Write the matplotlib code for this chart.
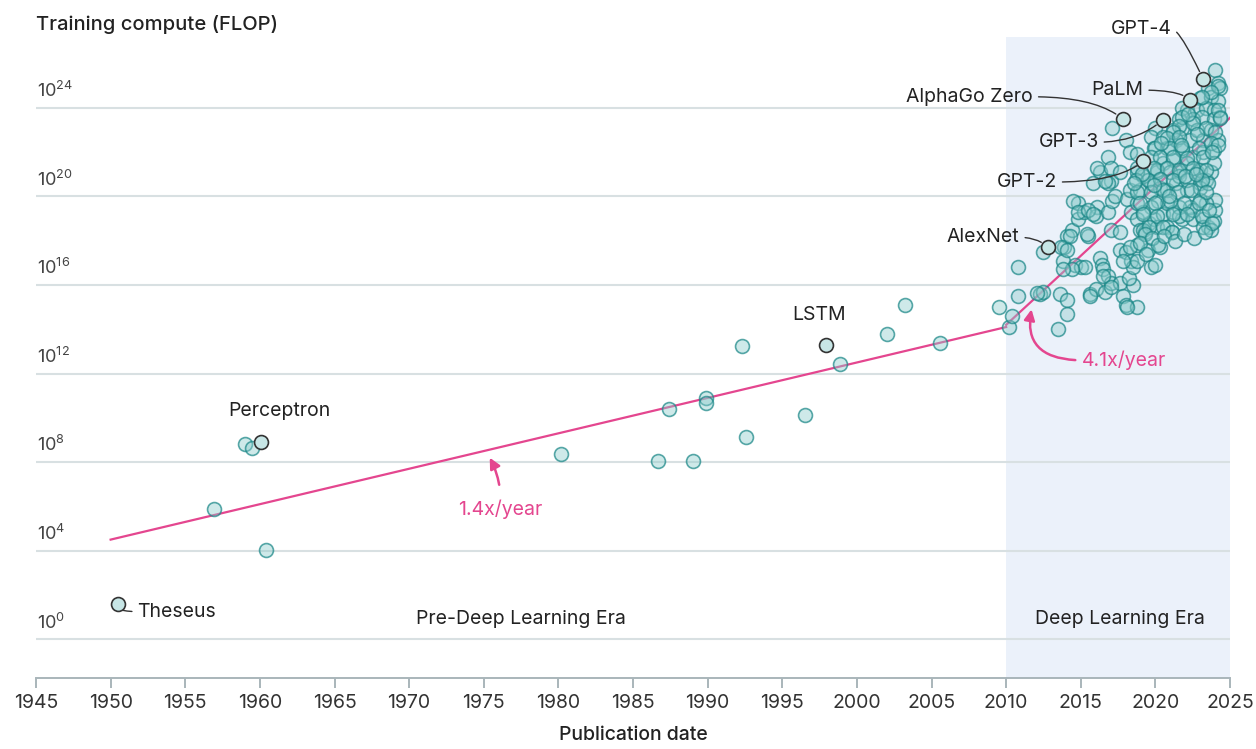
import matplotlib
matplotlib.use("Agg")
import matplotlib.pyplot as plt
import numpy as np

plt.rcParams['font.family'] = ['Inter', 'DejaVu Sans']

# ---- data: publication year and log10 of training compute (FLOP) ----
years = [
    # pre deep learning era
    1956.9, 1960.4, 1959.0, 1959.5, 1980.2, 1986.7, 1989.0, 1987.4, 1989.9, 1989.9,
    1992.6, 1992.3, 1996.5, 1998.9, 2002.0, 2003.2, 2005.6, 2009.5, 2010.2,
    # deep learning era
    2010.4, 2010.8, 2010.8, 2012.3, 2012.5, 2013.6, 2014.1, 2014.1, 2013.5, 2013.8,
    2013.9, 2014.1, 2014.4, 2014.8, 2014.8, 2015.2, 2015.5, 2014.6, 2015.0, 2015.3,
    2014.4, 2013.8, 2012.5, 2013.7, 2016.1, 2016.0, 2016.3, 2016.4, 2016.5, 2015.6,
    2016.0, 2016.6, 2016.8, 2017.0, 2017.6, 2017.8, 2018.0, 2018.8, 2018.5, 2018.2,
    2017.6, 2018.0, 2018.4, 2018.5, 2017.8, 2019.7, 2019.5, 2020.3, 2018.8, 2017.0,
    2017.6, 2016.8, 2017.1, 2017.3, 2018.1, 2018.3, 2018.4, 2018.8, 2019.0, 2019.3,
    2019.6, 2019.9, 2020.1, 2020.8, 2021.1, 2020.5, 2021.2, 2021.8, 2022.5, 2023.2,
    2023.5, 2023.9, 2024.0, 2024.0, 2023.4, 2023.0, 2022.3, 2021.6, 2020.8, 2020.2,
    2019.7, 2019.2, 2018.8, 2019.0, 2019.7, 2020.3, 2020.8, 2021.4, 2022.1, 2023.0,
    2023.4, 2022.8, 2021.6, 2020.1, 2019.2, 2018.8, 2017.0, 2016.3, 2015.8, 2016.8,
    2024.0, 2024.2, 2024.3, 2023.5, 2023.0, 2023.7, 2024.2, 2022.1, 2022.8, 2023.4,
    2023.9, 2017.1, 2020.0, 2021.6, 2021.8, 2022.5, 2023.1, 2023.9, 2024.3, 2018.0,
    2018.3, 2018.8, 2016.8, 2016.1, 2017.0, 2016.6, 2017.6, 2019.7, 2019.9, 2020.5,
    2020.8, 2021.2, 2021.4, 2021.8, 2022.3, 2022.8, 2023.2, 2023.7, 2024.2, 2023.9,
    2023.2, 2022.5, 2022.1, 2021.2, 2020.5, 2020.1, 2021.0, 2021.6, 2023.0, 2023.7,
    2023.9, 2023.0, 2023.5, 2014.5, 2014.8, 2015.5, 2015.8, 2015.4, 2014.3, 2014.1,
    2012.1, 2015.6, 2016.5, 2017.0, 2018.1, 2018.8, 2018.3, 2019.2, 2021.6, 2022.5,
    2023.2, 2023.7,
    2024.2, 2023.7, 2023.1, 2021.8, 2021.8, 2024.2, 2024.3, 2021.6, 2022.5, 2023.4,
    2024.0, 2021.2, 2020.8, 2021.6, 2022.8, 2021.0, 2021.8, 2022.9, 2023.7, 2024.2,
    2020.0, 2019.7, 2020.3, 2021.2, 2022.1, 2023.2, 2023.8, 2018.8, 2019.9, 2020.8,
    2021.6, 2022.5, 2023.4, 2018.7, 2019.5, 2020.3, 2021.2, 2022.1, 2023.1, 2018.8,
    2019.7, 2020.5, 2021.5, 2022.4, 2023.4, 2019.0, 2020.0, 2021.0, 2021.9, 2022.9,
    2019.2, 2020.1, 2021.2, 2022.1, 2023.1, 2023.8, 2019.6, 2020.5, 2021.1, 2019.3,
    # extra points in the dense core
    2019.0, 2019.4, 2019.8, 2020.2, 2020.6, 2021.3, 2021.9, 2022.6, 2023.3, 2022.0,
    2020.9, 2019.9, 2019.1, 2018.6, 2020.4, 2021.7, 2022.7, 2023.6, 2022.2, 2020.0,
]
log_flop = [
    5.9, 4.05, 8.8, 8.65, 8.35, 8.05, 8.05, 10.4, 10.9, 10.65,
    9.15, 13.25, 10.15, 12.45, 13.8, 15.1, 13.4, 15.0, 14.1,
    14.6, 15.5, 16.8, 15.6, 15.7, 15.6, 15.3, 14.7, 14.0, 17.1,
    17.7, 18.2, 18.5, 19.0, 19.7, 19.3, 18.2, 16.9, 16.8, 16.8,
    16.7, 16.7, 17.5, 17.7, 19.5, 19.1, 17.2, 16.9, 16.7, 15.6,
    15.8, 15.7, 16.4, 16.1, 16.1, 15.5, 15.1, 15.0, 16.0, 16.3,
    17.6, 17.5, 17.1, 16.8, 17.1, 16.8, 17.6, 17.7, 17.8, 18.5,
    18.4, 19.3, 19.8, 20.0, 19.9, 20.3, 19.3, 19.0, 18.5, 18.4,
    18.8, 19.0, 18.6, 18.6, 18.4, 19.2, 19.3, 19.0, 19.0, 19.0,
    18.6, 18.9, 19.4, 19.85, 19.7, 19.85, 19.5, 19.5, 19.7, 19.8,
    19.5, 19.3, 19.7, 20.3, 20.6, 20.4, 20.3, 20.6, 20.3, 20.6,
    20.75, 21.1, 21.1, 21.1, 20.9, 21.1, 20.7, 21.1, 20.6, 20.6,
    25.7, 25.1, 24.9, 24.9, 24.45, 24.5, 24.3, 23.9, 23.9, 24.0,
    23.9, 23.1, 23.1, 23.5, 23.1, 23.5, 23.6, 23.5, 23.6, 22.55,
    22.0, 21.9, 21.8, 21.3, 21.3, 20.7, 21.1, 22.7, 22.2, 22.7,
    22.2, 23.0, 22.55, 22.1, 22.55, 23.0, 22.55, 23.0, 22.55, 22.1,
    22.0, 21.8, 21.5, 21.65, 21.5, 21.2, 21.1, 20.9, 21.2, 21.1,
    21.5, 20.4, 20.6, 19.8, 19.3, 19.4, 19.2, 18.3, 18.2, 17.6,
    15.65, 15.5, 16.4, 15.9, 15.0, 17.1, 17.7, 18.5, 19.1, 19.4,
    18.6, 18.5,
    25.0, 24.7, 24.5, 24.0, 23.6, 23.9, 23.55, 23.2, 23.3, 23.1,
    22.9, 22.9, 22.65, 22.7, 22.8, 22.2, 22.2, 22.2, 22.4, 22.3,
    22.2, 21.8, 21.8, 21.8, 21.75, 21.8, 22.0, 21.3, 21.3, 21.3,
    21.2, 21.3, 21.2, 20.75, 20.75, 20.8, 20.75, 20.75, 20.75, 20.2,
    20.2, 20.3, 20.2, 20.3, 20.2, 19.7, 19.7, 19.8, 19.7, 19.7,
    19.2, 19.1, 19.2, 19.2, 19.1, 18.8, 18.6, 18.6, 18.4, 18.3,
    17.9, 17.4, 18.1, 17.8, 18.2, 18.0, 18.3, 18.1, 18.4, 20.9,
    20.0, 20.5, 21.0, 20.6, 22.4, 22.3, 21.0, 19.4, 23.7, 16.9,
]

# named systems
named = ['Theseus', 'Perceptron', 'LSTM', 'AlexNet', 'GPT-2', 'GPT-3',
         'AlphaGo Zero', 'PaLM', 'GPT-4']
named_years = [1950.5, 1960.1, 1997.9, 2012.8, 2019.2, 2020.5, 2017.8, 2022.3, 2023.2]
named_log = [1.6, 8.9, 13.3, 17.7, 21.6, 23.45, 23.5, 24.35, 25.3]
label_years = [1951.8, 1961.3, 1997.5, 2010.9, 2013.4, 2016.2, 2011.8, 2019.2, 2021.1]
label_log = [1.25, 10.3, 14.65, 18.15, 20.65, 22.45, 24.5, 24.8, 27.55]

# trend lines
pre_years = [1950, 2010]
pre_log = [4.5, 14.1]
dl_years = [2010, 2025]
dl_log = [14.2, 23.55]

pink = '#E4468F'
teal_face = (0.55, 0.80, 0.80, 0.42)
teal_edge = (0.10, 0.53, 0.53, 0.72)
text_col = '#222222'

fig = plt.figure(figsize=(12.56, 7.49), dpi=100)
ax = fig.add_axes([36 / 1256, 71 / 749, 1194 / 1256, 641 / 749])
ax.set_yscale('log')
ax.set_xlim(1945, 2025)
ax.set_ylim(10 ** -1.75, 10 ** 27.2)

# deep learning era shading
ax.axvspan(2010, 2025, color='#EBF1FA', zorder=0, lw=0)

# horizontal grid + labels sitting on top of each line
for e in range(0, 25, 4):
    ax.axhline(10.0 ** e, color='#D8E0E2', lw=1.5, zorder=1)
    ax.text(1945.05, 10 ** (e + 0.3), r'$\mathregular{10^{%d}}$' % e,
            ha='left', va='bottom', fontsize=13, color='#444444')

# trend lines
ax.plot(pre_years, 10 ** np.array(pre_log), color=pink, lw=1.6, zorder=2)
ax.plot(dl_years, 10 ** np.array(dl_log), color=pink, lw=1.6, zorder=2)

# all systems
ax.scatter(years, 10 ** np.array(log_flop), s=100, facecolor=teal_face,
           edgecolor=teal_edge, linewidth=1.2, zorder=3)
ax.scatter(named_years, 10 ** np.array(named_log), s=100, facecolor=(0.78, 0.9, 0.9, 1.0),
           edgecolor='#333333', linewidth=1.2, zorder=4)

# labels for the named systems
conn = {
    'Theseus': ('angle3,angleA=0,angleB=60', (0, 0.5), 'left'),
    'AlexNet': ('angle3,angleA=0,angleB=135', (1, 0.5), 'right'),
    'GPT-2': ('angle3,angleA=0,angleB=40', (1, 0.5), 'right'),
    'GPT-3': ('angle3,angleA=0,angleB=40', (1, 0.5), 'right'),
    'AlphaGo Zero': ('angle3,angleA=0,angleB=140', (1, 0.5), 'right'),
    'PaLM': ('angle3,angleA=0,angleB=130', (1, 0.5), 'right'),
    'GPT-4': ('angle3,angleA=0,angleB=115', (1, 0.5), 'right'),
}
for name, px, py, tx, ty in zip(named, named_years, named_log, label_years, label_log):
    if name in conn:
        cs, rp, ha = conn[name]
        ax.annotate(name, xy=(px, 10 ** py), xytext=(tx, 10 ** ty),
                    ha=ha, va='center', fontsize=14, color=text_col, zorder=5,
                    arrowprops=dict(arrowstyle='-', color='#333333', lw=1,
                                    connectionstyle=cs, relpos=rp,
                                    shrinkA=2, shrinkB=6))
    else:
        ax.text(tx, 10 ** ty, name, ha='center', va='center', fontsize=14,
                color=text_col, zorder=5)

# growth rate callouts
ax.annotate('1.4x/year', xy=(1975.4, 10 ** 8.2), xytext=(1976.1, 10 ** 5.85),
            ha='center', va='center', fontsize=14, color=pink,
            arrowprops=dict(arrowstyle='-|>', color=pink, lw=1.8,
                            connectionstyle='arc3,rad=0.15', shrinkA=9, shrinkB=0,
                            mutation_scale=16))
ax.annotate('4.1x/year', xy=(2011.7, 10 ** 14.9), xytext=(2015.1, 10 ** 12.6),
            ha='left', va='center', fontsize=14, color=pink,
            arrowprops=dict(arrowstyle='-|>', color=pink, lw=1.8,
                            connectionstyle='angle3,angleA=0,angleB=80',
                            relpos=(0, 0.5), shrinkA=3, shrinkB=0,
                            mutation_scale=16))

# era labels
ax.text(1977.5, 10 ** 0.9, 'Pre-Deep Learning Era', ha='center', va='center',
        fontsize=14, color=text_col)
ax.text(2017.6, 10 ** 0.9, 'Deep Learning Era', ha='center', va='center',
        fontsize=14, color=text_col)

# axes styling
for side in ['left', 'right', 'top']:
    ax.spines[side].set_visible(False)
ax.spines['bottom'].set_color('#A9B5BA')
ax.spines['bottom'].set_linewidth(1.4)
ax.set_yticks([])
ax.minorticks_off()
ax.set_xticks(range(1945, 2026, 5))
ax.tick_params(axis='x', direction='out', length=7.5, width=1.4, color='#A9B5BA',
               labelsize=14, labelcolor='#333333', pad=4)
ax.set_xlabel('Publication date', fontsize=14, color=text_col, labelpad=10,
              fontweight='medium')

fig.text(36 / 1256, 1 - 25 / 749, 'Training compute (FLOP)', ha='left', va='center',
         fontsize=14.5, color=text_col, fontweight='medium')

fig.savefig('out.png', dpi=100)
